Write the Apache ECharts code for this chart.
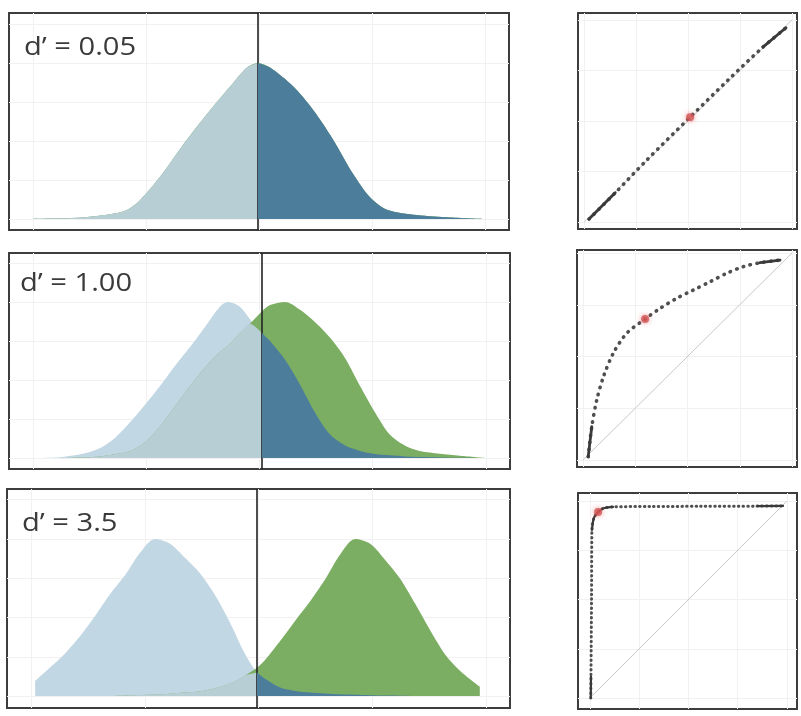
<!DOCTYPE html>
<html>
<head>
<meta charset="utf-8">
<script src="https://cdn.jsdelivr.net/npm/echarts@6/dist/echarts.min.js"></script>
<style>
  html, body { margin: 0; padding: 0; background: #ffffff; }
  #chart { width: 801px; height: 716px; }
</style>
</head>
<body>
<div id="chart"></div>
<script>
// ---------- data ----------
// panel labels
const panelLabels = ["d\u2019 = 0.05", "d\u2019 = 1.00", "d\u2019 = 3.5"];

// decision axis positions (0..100 across each box) and criterion
const criteria = [49.8, 50.5, 49.7];

// d' = 0.05
const x1 = [4.8, 10.2, 14.8, 20.2, 23.6, 26.2, 30.2, 35.6, 40.8, 44.8, 47.6, 49.8, 52.2, 56.8, 60.8, 64.8, 68.8, 72.2, 75.6, 81.6, 88.2, 95.6];
const noise1 = [0, 0.004, 0.01, 0.03, 0.058, 0.12, 0.27, 0.51, 0.72, 0.87, 0.97, 1.0, 0.97, 0.85, 0.70, 0.51, 0.29, 0.14, 0.06, 0.025, 0.01, 0];
const signal1 = [0, 0.004, 0.01, 0.03, 0.058, 0.12, 0.27, 0.51, 0.72, 0.87, 0.97, 1.0, 0.97, 0.85, 0.70, 0.51, 0.29, 0.14, 0.06, 0.025, 0.01, 0];

// d' = 1.00
const x2 = [4.8, 10.2, 15.2, 18.2, 21.2, 24.2, 27.1, 30.1, 33.1, 36.1, 39.1, 42.1, 43.7, 46.1, 48.1, 50.5, 52.1, 55.1, 58.1, 61.1, 64.1, 67.1, 70.1, 73.1, 76.0, 79.0, 82.0, 86.0, 90.0, 95.4];
const noise2 = [0, 0.005, 0.03, 0.064, 0.13, 0.23, 0.34, 0.46, 0.59, 0.71, 0.84, 0.97, 1.0, 0.97, 0.89, 0.80, 0.75, 0.63, 0.47, 0.29, 0.15, 0.08, 0.045, 0.025, 0.017, 0.01, 0.007, 0.004, 0.002, 0];
const signal2 = [0, 0, 0.005, 0.01, 0.025, 0.045, 0.1, 0.2, 0.33, 0.46, 0.58, 0.68, 0.72, 0.80, 0.86, 0.94, 0.98, 1.0, 0.95, 0.87, 0.77, 0.64, 0.46, 0.29, 0.15, 0.08, 0.045, 0.028, 0.015, 0];

// d' = 3.5
const x3 = [5.6, 8.5, 11.5, 14.5, 17.5, 20.5, 23.5, 26.4, 29.4, 32.4, 35.4, 38.4, 41.4, 44.3, 47.3, 49.7, 51.3, 54.3, 57.3, 60.2, 63.2, 66.2, 69.2, 72.2, 75.1, 78.1, 81.1, 84.1, 87.1, 90.1, 94.0];
const noise3 = [0.096, 0.18, 0.27, 0.38, 0.51, 0.65, 0.77, 0.91, 1.0, 0.97, 0.88, 0.78, 0.64, 0.47, 0.27, 0.15, 0.11, 0.055, 0.033, 0.023, 0.016, 0.011, 0.008, 0.005, 0.003, 0.002, 0.001, 0.001, 0, 0, 0];
const signal3 = [0, 0, 0, 0, 0, 0, 0.003, 0.006, 0.01, 0.015, 0.022, 0.03, 0.05, 0.08, 0.13, 0.18, 0.23, 0.35, 0.48, 0.60, 0.74, 0.90, 1.0, 0.97, 0.87, 0.75, 0.59, 0.42, 0.265, 0.16, 0.06];

// ROC curves (false-alarm rate, hit rate)
const rocFA1 = [0.024, 0.15, 0.30, 0.51, 0.70, 0.86, 0.971];
const rocHit1 = [0.015, 0.145, 0.305, 0.519, 0.71, 0.865, 0.961];
const rocFA2 = [0.025, 0.042, 0.066, 0.098, 0.145, 0.209, 0.297, 0.368, 0.448, 0.528, 0.608, 0.687, 0.767, 0.847, 0.943];
const rocHit2 = [0.016, 0.161, 0.290, 0.403, 0.516, 0.612, 0.681, 0.732, 0.781, 0.821, 0.861, 0.902, 0.934, 0.953, 0.966];
const rocFA3 = [0.004, 0.005, 0.008, 0.010, 0.020, 0.041, 0.066, 0.117, 0.305, 0.558, 0.85, 0.98];
const rocHit3 = [0.0, 0.11, 0.5, 0.853, 0.914, 0.944, 0.962, 0.970, 0.972, 0.973, 0.974, 0.975];
// operating point at the criterion
const rocPoint1 = [0.51, 0.519];
const rocPoint2 = [0.297, 0.681];
const rocPoint3 = [0.041, 0.944];
// chance line
const chanceFA = [0, 1];
const chanceHit = [0, 1];

// faint background grid lines
const distGridX = [4.8, 27.4, 50, 72.6, 95.2];
const distGridY = [0, 0.25, 0.5, 0.75, 1, 1.25];
const rocGridTicks = [0, 0.25, 0.5, 0.75, 1];

// ---------- layout ----------
const distGrids = [
  { left: 9, top: 13, width: 500, height: 217, ymin: -0.0705, ymax: 1.32 },
  { left: 9, top: 253, width: 501, height: 216, ymin: -0.0705, ymax: 1.314 },
  { left: 7, top: 489, width: 503, height: 219, ymin: -0.076, ymax: 1.318 }
];
const rocGrids = [
  { left: 578, top: 13, width: 219, height: 216, xmin: -0.029, xmax: 1.024, ymin: -0.034, ymax: 1.034 },
  { left: 577, top: 250, width: 220, height: 217, xmin: -0.0287, xmax: 1.0239, ymin: -0.0338, ymax: 1.0145 },
  { left: 578, top: 493, width: 219, height: 216, xmin: -0.0609, xmax: 1.0508, ymin: -0.0558, ymax: 1.0406 }
];
const labelPos = [
  { left: 24, top: 35 },
  { left: 20, top: 271 },
  { left: 22, top: 511 }
];

const C = {
  noise: '#c2d7e4',
  signal: '#7bae62',
  overlap: '#b8ced5',
  falseAlarm: '#4c7d9b',
  border: '#3d3d3d',
  crit: '#222222',
  faint: '#f1f1f1'
};

const grid = [];
const xAxis = [];
const yAxis = [];
const series = [];
const graphic = [];

function faintAxis(gi, min, max, ticks) {
  return {
    gridIndex: gi, type: 'value', min: min, max: max,
    axisLine: { show: false },
    axisTick: { show: false, customValues: ticks },
    axisLabel: { show: false },
    splitLine: { show: true, lineStyle: { color: C.faint, width: 1 } }
  };
}

function areaSeries(gi, data, color, z) {
  return {
    type: 'line', xAxisIndex: gi, yAxisIndex: gi, data: data,
    smooth: 0.3, symbol: 'none', silent: true, z: z,
    lineStyle: { width: 0 },
    areaStyle: { color: color, opacity: 1 }
  };
}

const dists = [[x1, noise1, signal1], [x2, noise2, signal2], [x3, noise3, signal3]];

dists.forEach(function (d, i) {
  const g = distGrids[i];
  grid.push({ left: g.left, top: g.top, width: g.width, height: g.height, show: true,
              borderColor: C.border, borderWidth: 2, backgroundColor: '#ffffff' });
  xAxis.push(faintAxis(i, 0, 100, distGridX));
  yAxis.push(faintAxis(i, g.ymin, g.ymax, distGridY));
  const xs = d[0], nz = d[1], sg = d[2], thr = criteria[i];
  const noiseData = xs.map(function (x, k) { return [x, nz[k]]; });
  const signalData = xs.map(function (x, k) { return [x, sg[k]]; });
  const overlapLeft = xs.map(function (x, k) { return [x, Math.min(nz[k], sg[k])]; })
                        .filter(function (p) { return p[0] <= thr; });
  const noiseRight = noiseData.filter(function (p) { return p[0] >= thr; });
  series.push(areaSeries(i, noiseData, C.noise, 2));
  series.push(areaSeries(i, signalData, C.signal, 3));
  series.push(areaSeries(i, overlapLeft, C.overlap, 4));
  const fa = areaSeries(i, noiseRight, C.falseAlarm, 5);
  fa.markLine = {
    silent: true, symbol: 'none', animation: false,
    label: { show: false },
    lineStyle: { color: C.crit, width: 1.6, type: 'solid' },
    data: [{ xAxis: thr }]
  };
  series.push(fa);
  graphic.push({
    type: 'text', left: labelPos[i].left, top: labelPos[i].top, scaleX: 1.12, z: 100, silent: true,
    style: { text: panelLabels[i], fontFamily: 'Open Sans', fontSize: 26, fontWeight: 'normal', fill: '#3a3a3a' }
  });
});

const rocs = [
  [rocFA1, rocHit1, rocPoint1, [[0, 1], [5, 6]], 3.6, [0.5, 6.5]],
  [rocFA2, rocHit2, rocPoint2, [[0, 1], [13, 14]], 3.6, [0.5, 6.5]],
  [rocFA3, rocHit3, rocPoint3, [[0, 1], [3, 7], [10, 11]], 3.0, [0.5, 4.2]]
];

rocs.forEach(function (r, j) {
  const gi = 3 + j;
  const g = rocGrids[j];
  grid.push({ left: g.left, top: g.top, width: g.width, height: g.height, show: true,
              borderColor: C.border, borderWidth: 2, backgroundColor: '#ffffff' });
  xAxis.push(faintAxis(gi, g.xmin, g.xmax, rocGridTicks));
  yAxis.push(faintAxis(gi, g.ymin, g.ymax, rocGridTicks));
  const fa = r[0], hit = r[1];
  const curve = fa.map(function (v, k) { return [v, hit[k]]; });
  series.push({
    type: 'line', xAxisIndex: gi, yAxisIndex: gi, silent: true, symbol: 'none', z: 2,
    data: chanceFA.map(function (v, k) { return [v, chanceHit[k]]; }),
    lineStyle: { color: '#c9c9c9', width: 1 }
  });
  series.push({
    type: 'line', xAxisIndex: gi, yAxisIndex: gi, silent: true, symbol: 'none', z: 3,
    smooth: 0.3, data: curve,
    lineStyle: { color: '#4f4f4f', width: r[4], type: r[5], cap: 'round' }
  });
  r[3].forEach(function (seg) {
    series.push({
      type: 'line', xAxisIndex: gi, yAxisIndex: gi, silent: true, symbol: 'none', z: 4,
      smooth: 0.3, data: curve.slice(seg[0], seg[1] + 1),
      lineStyle: { color: '#3a3a3a', width: r[4] - 0.8, cap: 'round' }
    });
  });
  series.push({
    type: 'scatter', xAxisIndex: gi, yAxisIndex: gi, silent: true, z: 6,
    data: [r[2]], symbolSize: 8,
    itemStyle: { color: '#d25555', shadowBlur: 5, shadowColor: 'rgba(235,90,90,0.8)' }
  });
});

const chart = echarts.init(document.getElementById('chart'), null, { renderer: 'canvas' });
chart.setOption({
  animation: false,
  backgroundColor: '#ffffff',
  graphic: graphic,
  grid: grid,
  xAxis: xAxis,
  yAxis: yAxis,
  series: series
});
</script>
</body>
</html>
